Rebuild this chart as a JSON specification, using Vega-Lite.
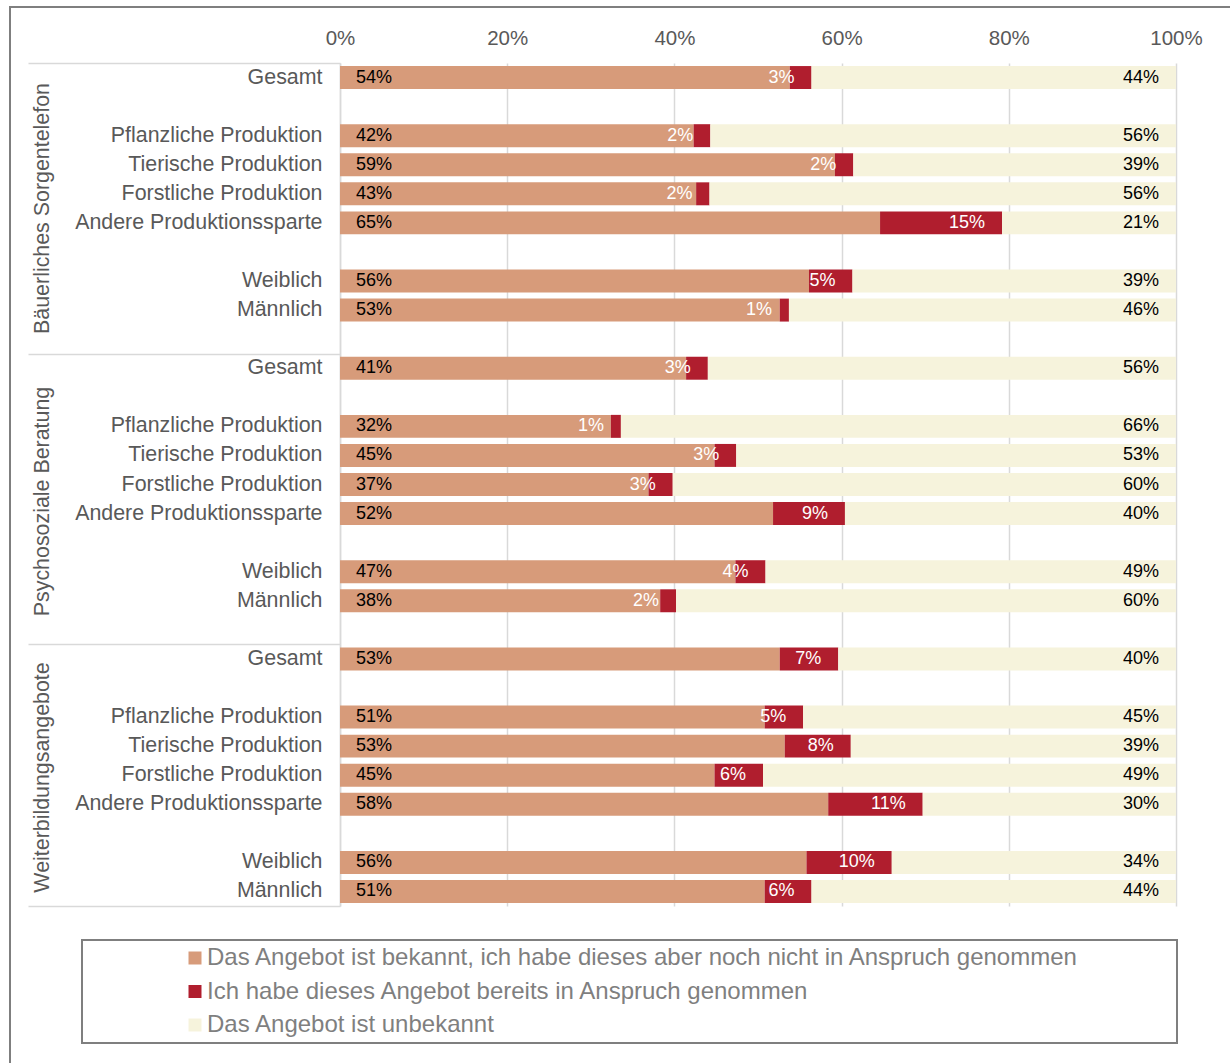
{
  "$schema": "https://vega.github.io/schema/vega-lite/v6.json",
  "autosize": {"type": "none"},
  "padding": {"left": 10, "top": 7, "right": -12, "bottom": -10},
  "width": 1232,
  "height": 1066,
  "background": "white",
  "config": {
    "font": "Liberation Sans",
    "view": {"stroke": "#7f7f7f", "strokeWidth": 2},
    "legend": {"strokeWidth": 2}
  },
  "data": {
    "values": [
      {"row": "1|Gesamt", "a": 0.538, "b": 0.026, "c": 0.436},
      {"row": "1|Pflanzliche Produktion", "a": 0.423, "b": 0.020, "c": 0.557},
      {"row": "1|Tierische Produktion", "a": 0.592, "b": 0.022, "c": 0.386},
      {"row": "1|Forstliche Produktion", "a": 0.426, "b": 0.016, "c": 0.558},
      {"row": "1|Andere Produktionssparte", "a": 0.646, "b": 0.146, "c": 0.208},
      {"row": "1|Weiblich", "a": 0.561, "b": 0.052, "c": 0.387},
      {"row": "1|Männlich", "a": 0.526, "b": 0.011, "c": 0.463},
      {"row": "2|Gesamt", "a": 0.414, "b": 0.026, "c": 0.560},
      {"row": "2|Pflanzliche Produktion", "a": 0.324, "b": 0.012, "c": 0.664},
      {"row": "2|Tierische Produktion", "a": 0.448, "b": 0.026, "c": 0.526},
      {"row": "2|Forstliche Produktion", "a": 0.369, "b": 0.029, "c": 0.602},
      {"row": "2|Andere Produktionssparte", "a": 0.518, "b": 0.086, "c": 0.396},
      {"row": "2|Weiblich", "a": 0.473, "b": 0.036, "c": 0.491},
      {"row": "2|Männlich", "a": 0.383, "b": 0.019, "c": 0.598},
      {"row": "3|Gesamt", "a": 0.526, "b": 0.070, "c": 0.404},
      {"row": "3|Pflanzliche Produktion", "a": 0.508, "b": 0.046, "c": 0.446},
      {"row": "3|Tierische Produktion", "a": 0.532, "b": 0.079, "c": 0.389},
      {"row": "3|Forstliche Produktion", "a": 0.448, "b": 0.058, "c": 0.494},
      {"row": "3|Andere Produktionssparte", "a": 0.584, "b": 0.113, "c": 0.303},
      {"row": "3|Weiblich", "a": 0.558, "b": 0.102, "c": 0.340},
      {"row": "3|Männlich", "a": 0.508, "b": 0.056, "c": 0.436}
    ]
  },
  "transform": [
    {"fold": ["a", "b", "c"], "as": ["cat", "v"]},
    {"stack": "v", "groupby": ["row"], "sort": [{"field": "cat", "order": "ascending"}], "as": ["v0", "v1"]}
  ],
  "resolve": {"axis": {"y": "independent"}},
  "layer": [
    {
      "mark": {"type": "bar"},
      "encoding": {
        "x": {
          "field": "v0", "type": "quantitative",
          "scale": {"domain": [0, 1], "range": [330, 1166], "nice": false, "zero": false},
          "axis": {
            "orient": "top", "offset": -56, "values": [0, 0.2, 0.4, 0.6, 0.8, 1], "format": ".0%",
            "domain": false, "ticks": false, "grid": true, "gridColor": "#d9d9d9", "gridWidth": 1.5,
            "labelFontSize": 20.5, "labelColor": "#595959", "labelPadding": 15, "labelFlush": false, "title": null
          }
        },
        "x2": {"field": "v1"},
        "y": {
          "field": "row", "type": "nominal",
          "scale": {
            "domain": ["1|Gesamt","1|_1","1|Pflanzliche Produktion","1|Tierische Produktion","1|Forstliche Produktion","1|Andere Produktionssparte","1|_2","1|Weiblich","1|Männlich","1|_3",
                       "2|Gesamt","2|_1","2|Pflanzliche Produktion","2|Tierische Produktion","2|Forstliche Produktion","2|Andere Produktionssparte","2|_2","2|Weiblich","2|Männlich","2|_3",
                       "3|Gesamt","3|_1","3|Pflanzliche Produktion","3|Tierische Produktion","3|Forstliche Produktion","3|Andere Produktionssparte","3|_2","3|Weiblich","3|Männlich"],
            "range": [56, 899], "paddingInner": 0.21, "paddingOuter": 0.105
          },
          "axis": {
            "orient": "left", "offset": -330, "ticks": false, "domain": true, "domainColor": "#d9d9d9", "domainWidth": 1.5,
            "grid": false,
            "labelExpr": "indexof(datum.value, '_') > 0 ? '' : split(datum.value, '|')[1]",
            "labelFontSize": 21.4, "labelColor": "#595959", "labelPadding": 18, "labelLimit": 400,
            "title": "Bäuerliches Sorgentelefon", "titleX": -298, "titleY": 201, "titleAngle": -90,
            "titleFontSize": 21.4, "titleFontWeight": "normal", "titleColor": "#595959",
            "titleBaseline": "middle", "titleAlign": "center"
          }
        },
        "color": {
          "field": "cat", "type": "nominal",
          "scale": {"domain": ["a", "b", "c"], "range": ["#D79B7A", "#B01E2E", "#F6F3DC"]},
          "legend": {
            "orient": "none", "legendX": 72, "legendY": 933, "direction": "vertical",
            "title": "MMMMM",
            "titleOrient": "right", "titleFontSize": 21.8, "titlePadding": 0, "titleOpacity": 0,
            "padding": 6, "strokeColor": "#7f7f7f", "fillColor": "white",
            "symbolType": "square", "symbolSize": 169, "symbolStrokeWidth": 0, "symbolOffset": 95,
            "labelOffset": 0, "labelFontSize": 24, "labelColor": "#7f7f7f", "labelLimit": 1200, "rowPadding": 9.5,
            "labelExpr": "datum.value == 'a' ? 'Das Angebot ist bekannt, ich habe dieses aber noch nicht in Anspruch genommen' : datum.value == 'b' ? 'Ich habe dieses Angebot bereits in Anspruch genommen' : 'Das Angebot ist unbekannt'"
          }
        }
      }
    },
    {
      "transform": [{"filter": "datum.cat == 'a'"}],
      "mark": {"type": "text", "align": "left", "dx": 16, "baseline": "middle", "fontSize": 18, "color": "#000000"},
      "encoding": {
        "x": {"field": "v0", "type": "quantitative", "scale": {"domain": [0, 1], "range": [330, 1166], "nice": false, "zero": false}, "axis": {"title": null}},
        "y": {
          "field": "row", "type": "nominal",
          "scale": {
            "domain": ["1|Gesamt","1|_1","1|Pflanzliche Produktion","1|Tierische Produktion","1|Forstliche Produktion","1|Andere Produktionssparte","1|_2","1|Weiblich","1|Männlich","1|_3",
                       "2|Gesamt","2|_1","2|Pflanzliche Produktion","2|Tierische Produktion","2|Forstliche Produktion","2|Andere Produktionssparte","2|_2","2|Weiblich","2|Männlich","2|_3",
                       "3|Gesamt","3|_1","3|Pflanzliche Produktion","3|Tierische Produktion","3|Forstliche Produktion","3|Andere Produktionssparte","3|_2","3|Weiblich","3|Männlich"],
            "range": [56, 899], "paddingInner": 0.21, "paddingOuter": 0.105
          },
          "axis": {
            "orient": "left", "offset": -330, "labels": false, "domain": false, "grid": false,
            "ticks": true, "values": ["1|Gesamt", "2|Gesamt", "3|Gesamt"], "bandPosition": 0, "tickOffset": -3.05,
            "tickSize": 312, "tickColor": "#d9d9d9", "tickWidth": 1.5,
            "title": "Psychosoziale Beratung", "titleX": -298, "titleY": 494, "titleAngle": -90,
            "titleFontSize": 21.4, "titleFontWeight": "normal", "titleColor": "#595959",
            "titleBaseline": "middle", "titleAlign": "center"
          }
        },
        "text": {"field": "v", "type": "quantitative", "format": ".0%"}
      }
    },
    {
      "transform": [{"filter": "datum.cat == 'b'"}],
      "mark": {"type": "text", "align": "right", "dx": -17, "baseline": "middle", "fontSize": 18, "color": "#ffffff"},
      "encoding": {
        "x": {"field": "v1", "type": "quantitative", "scale": {"domain": [0, 1], "range": [330, 1166], "nice": false, "zero": false}, "axis": {"title": null}},
        "y": {
          "field": "row", "type": "nominal",
          "scale": {
            "domain": ["1|Gesamt","1|_1","1|Pflanzliche Produktion","1|Tierische Produktion","1|Forstliche Produktion","1|Andere Produktionssparte","1|_2","1|Weiblich","1|Männlich","1|_3",
                       "2|Gesamt","2|_1","2|Pflanzliche Produktion","2|Tierische Produktion","2|Forstliche Produktion","2|Andere Produktionssparte","2|_2","2|Weiblich","2|Männlich","2|_3",
                       "3|Gesamt","3|_1","3|Pflanzliche Produktion","3|Tierische Produktion","3|Forstliche Produktion","3|Andere Produktionssparte","3|_2","3|Weiblich","3|Männlich"],
            "range": [56, 899], "paddingInner": 0.21, "paddingOuter": 0.105
          },
          "axis": {
            "orient": "left", "offset": -330, "labels": false, "domain": false, "grid": false,
            "ticks": true, "values": ["3|Männlich"], "bandPosition": 1, "tickOffset": 3.05,
            "tickSize": 312, "tickColor": "#d9d9d9", "tickWidth": 1.5,
            "title": "Weiterbildungsangebote", "titleX": -298, "titleY": 770, "titleAngle": -90,
            "titleFontSize": 21.4, "titleFontWeight": "normal", "titleColor": "#595959",
            "titleBaseline": "middle", "titleAlign": "center"
          }
        },
        "text": {"field": "v", "type": "quantitative", "format": ".0%"}
      }
    },
    {
      "transform": [{"filter": "datum.cat == 'c'"}],
      "mark": {"type": "text", "align": "right", "dx": -17, "baseline": "middle", "fontSize": 18, "color": "#000000"},
      "encoding": {
        "x": {"field": "v1", "type": "quantitative", "scale": {"domain": [0, 1], "range": [330, 1166], "nice": false, "zero": false}, "axis": {"title": null}},
        "y": {
          "field": "row", "type": "nominal",
          "scale": {
            "domain": ["1|Gesamt","1|_1","1|Pflanzliche Produktion","1|Tierische Produktion","1|Forstliche Produktion","1|Andere Produktionssparte","1|_2","1|Weiblich","1|Männlich","1|_3",
                       "2|Gesamt","2|_1","2|Pflanzliche Produktion","2|Tierische Produktion","2|Forstliche Produktion","2|Andere Produktionssparte","2|_2","2|Weiblich","2|Männlich","2|_3",
                       "3|Gesamt","3|_1","3|Pflanzliche Produktion","3|Tierische Produktion","3|Forstliche Produktion","3|Andere Produktionssparte","3|_2","3|Weiblich","3|Männlich"],
            "range": [56, 899], "paddingInner": 0.21, "paddingOuter": 0.105
          },
          "axis": null
        },
        "text": {"field": "v", "type": "quantitative", "format": ".0%"}
      }
    }
  ]
}
